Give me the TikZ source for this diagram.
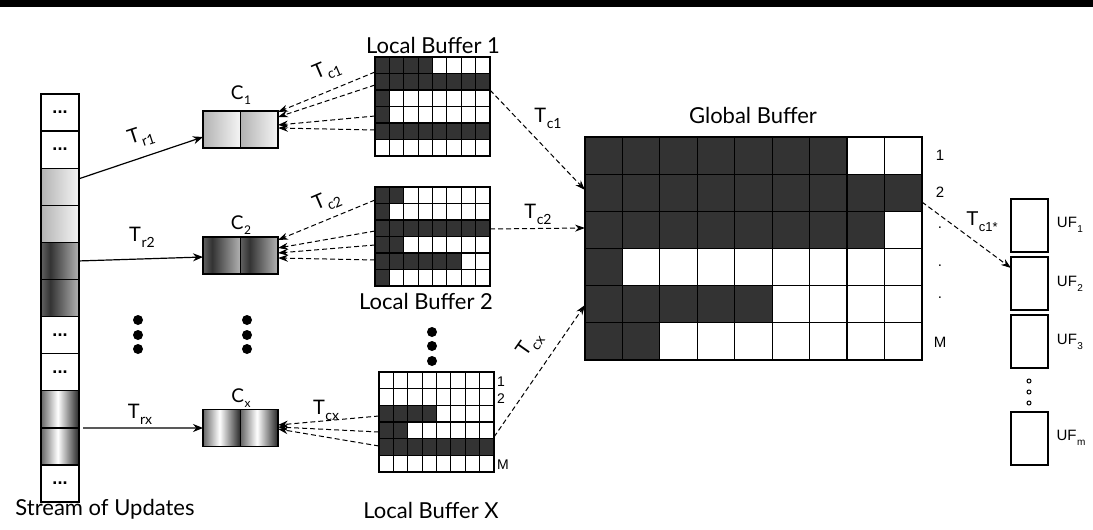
\documentclass[tikz,border=0pt]{standalone}
\usepackage{fontspec}
\setmainfont{Lato}
\newfontfamily\arialf{Liberation Sans}
\usetikzlibrary{arrows.meta,calc}
\pgfdeclarehorizontalshading{lightgrad}{100bp}{color(0bp)=(black!30); color(25bp)=(black!30); color(75bp)=(black!4); color(100bp)=(black!4)}
\pgfdeclarehorizontalshading{darkgrad}{100bp}{color(0bp)=(black!62); color(25bp)=(black!62); color(37bp)=(black!80); color(75bp)=(black!30); color(100bp)=(black!30)}
\pgfdeclarehorizontalshading{xgrad}{100bp}{color(0bp)=(black!60); color(25bp)=(black!60); color(47bp)=(white); color(75bp)=(black!85); color(100bp)=(black!85)}
\newcommand\sbs[2]{\kern0.5pt\raisebox{-0.3em}{\fontsize{#1}{#1}\selectfont #2}}
\newcommand\drawgrid[8]{%
  \foreach \rowv [count=\r] in {#7} {%
    \foreach \v [count=\c] in \rowv {%
      \ifnum\v=1 \def\fc{black!80}\else\def\fc{white}\fi
      \draw[line width=1.2pt, fill=\fc] ({#1+(\c-1)*#3},{#2+(\r-1)*#4}) rectangle ++(#3,#4);
    }%
  }%
  \node[inner sep=0pt, outer sep=0pt, minimum width={#3*#5}, minimum height={#4*#6}, anchor=north west] (#8) at (#1,#2) {};
}
\begin{document}
\begin{tikzpicture}[x=1pt,y=-1pt,
  scell/.style={draw, line width=1.3pt, minimum width=38pt, minimum height=37.1pt, inner sep=0pt, outer sep=0pt},
  dotc/.style={font=\arialf\bfseries\fontsize{18}{18}\selectfont},
  lightc/.style={shading=lightgrad},
  darkc/.style={shading=darkgrad},
  xc/.style={shading=xgrad},
  chalf/.style={draw, line width=1.3pt, minimum width=37.5pt, minimum height=37pt, inner sep=0pt, outer sep=0pt},
  title/.style={font=\fontsize{22}{24}\selectfont, inner sep=0pt},
  tlab/.style={font=\fontsize{20}{22}\selectfont, inner sep=0pt},
  clab/.style={font=\fontsize{19}{21}\selectfont, inner sep=0pt},
  rlab/.style={font=\arialf\fontsize{15}{16}\selectfont, inner sep=0pt},
  ufbox/.style={draw, line width=1.1pt, minimum width=37pt, minimum height=53pt, inner sep=0pt, outer sep=0pt},
  bigdot/.style={fill=black, circle, minimum size=10pt, inner sep=0pt},
  smalldot/.style={draw, line width=1pt, circle, minimum size=4pt, inner sep=0pt},
  solidarr/.style={line width=1.2pt, -{Stealth[length=10pt,width=8pt]}},
  dasharr/.style={line width=1pt, dash pattern=on 5pt off 3pt, -{Stealth[length=10pt,width=7pt]}}
]
\useasboundingbox (0,0) rectangle (1093,530);
\fill[white] (0,0) rectangle (1093,530);
\fill[black] (0,0) rectangle (1093,7);

% stream of updates
\node[scell,dotc] (s0) at (60,112.55) {...};
\node[scell,dotc] (s1) at (60,149.65) {...};
\node[scell,lightc] (s2) at (60,186.75) {};
\node[scell,lightc] (s3) at (60,223.85) {};
\node[scell,darkc] (s4) at (60,260.95) {};
\node[scell,darkc] (s5) at (60,298.05) {};
\node[scell,dotc] (s6) at (60,335.15) {...};
\node[scell,dotc] (s7) at (60,372.25) {...};
\node[scell,xc] (s8) at (60,409.35) {};
\node[scell,xc] (s9) at (60,446.45) {};
\node[scell,dotc] (s10) at (60,483.55) {...};
\foreach \i in {0,...,10} {\draw[line width=1.3pt] (s\i.north west) rectangle (s\i.south east);}
\node[title] (stitle) at (105,509) {Stream of Updates};

% C boxes
\node[chalf,lightc] (c1a) at (221.75,129.5) {};
\node[chalf,lightc] (c1b) at (259.25,129.5) {};
\node[chalf,darkc] (c2a) at (221.75,255.5) {};
\node[chalf,darkc] (c2b) at (259.25,255.5) {};
\node[chalf,xc] (cxa) at (221.75,428) {};
\node[chalf,xc] (cxb) at (259.25,428) {};
\foreach \n in {c1a,c1b,c2a,c2b,cxa,cxb} {\draw[line width=1.3pt] (\n.north west) rectangle (\n.south east);}
\node[clab] (c1l) at (241,95) {C\sbs{12}{1}};
\node[clab] (c2l) at (241,225) {C\sbs{12}{2}};
\node[clab] (cxl) at (241,398) {C\sbs{12}{x}};

% dots
\foreach \yy [count=\k] in {320,335,349} {
  \node[bigdot] (da\k) at (138,\yy) {};
  \node[bigdot] (db\k) at (247,\yy) {};
}
\foreach \yy [count=\k] in {332,346,361} {\node[bigdot] (dc\k) at (432,\yy) {};}

% local buffers
\drawgrid{375}{57}{14.375}{16.5}{8}{6}{{1,1,1,1,0,0,0,0},{1,1,1,1,1,1,1,1},{1,0,0,0,0,0,0,0},{1,0,0,0,0,0,0,0},{1,1,1,1,1,1,1,1},{0,0,0,0,0,0,0,0}}{lb1}
\drawgrid{375}{187}{14.375}{16.5}{8}{6}{{1,1,0,0,0,0,0,0},{1,0,0,0,0,0,0,0},{1,1,1,1,1,1,1,1},{1,1,0,0,0,0,0,0},{1,1,1,1,1,1,0,0},{1,0,0,0,0,0,0,0}}{lb2}
\drawgrid{379}{372}{14.375}{16.67}{8}{6}{{0,0,0,0,0,0,0,0},{0,0,0,0,0,0,0,0},{1,1,1,1,0,0,0,0},{1,1,0,0,0,0,0,0},{1,1,1,1,1,1,1,1},{0,0,0,0,0,0,0,0}}{lbx}
\node[title] (lb1t) at (433,45) {Local Buffer 1};
\node[title] (lb2t) at (426,301) {Local Buffer 2};
\node[title] (lbxt) at (431,510) {Local Buffer X};
\node[rlab, anchor=west, font=\arialf\fontsize{14}{15}\selectfont] (lx1) at (497,382) {1};
\node[rlab, anchor=west, font=\arialf\fontsize{14}{15}\selectfont] (lx2) at (497,399) {2};
\node[rlab, anchor=west, font=\arialf\fontsize{14}{15}\selectfont] (lxm) at (497,465) {M};

% global buffer
\drawgrid{585}{137}{37.44}{37.17}{9}{6}{{1,1,1,1,1,1,1,0,0},{1,1,1,1,1,1,1,1,1},{1,1,1,1,1,1,1,1,0},{1,0,0,0,0,0,0,0,0},{1,1,1,1,1,0,0,0,0},{1,1,0,0,0,0,0,0,0}}{gb}
\node[title] (gbt) at (753,115) {Global Buffer};
\node[rlab] (g1) at (940,155) {1};
\node[rlab] (g2) at (940,192) {2};
\node[rlab] (g3) at (940,228) {.};
\node[rlab] (g4) at (940,266) {.};
\node[rlab] (g5) at (940,298) {.};
\node[rlab] (gm) at (940,342) {M};

% UF boxes
\node[ufbox] (uf1) at (1029.5,225.5) {};
\node[ufbox] (uf2) at (1029.5,283.5) {};
\node[ufbox] (uf3) at (1029.5,341.5) {};
\node[ufbox] (ufm) at (1029.5,438.5) {};
\node[rlab] (uf1l) at (1070,225) {UF\sbs{10}{1}};
\node[rlab] (uf2l) at (1070,284) {UF\sbs{10}{2}};
\node[rlab] (uf3l) at (1070,342) {UF\sbs{10}{3}};
\node[rlab] (ufml) at (1071,438) {UF\sbs{10}{m}};
\node[smalldot] (o1) at (1029,381) {};
\node[smalldot] (o2) at (1029,392) {};
\node[smalldot] (o3) at (1029,403) {};

% stream -> C
\draw[solidarr] ($(s2.east)+(0,-8)$) -- ($(c1a.west)+(0,7.5)$);
\draw[solidarr] (s4.east) -- ($(c2a.west)+(0,1.5)$);
\draw[solidarr] ($(s8.south east)+(4,0)$) -- (cxa.west);
\node[tlab, rotate=18] (tr1) at (141,137) {T\sbs{14}{r1}};
\node[tlab] (tr2) at (142,237) {T\sbs{14}{r2}};
\node[tlab] (trx) at (140,414) {T\sbs{14}{rx}};

% local buffers -> C
\draw[dasharr] ($(lb1.north west)+(0,15)$) -- ($(c1b.east)+(0,-17.5)$);
\draw[dasharr] ($(lb1.north west)+(0,28)$) -- ($(c1b.east)+(0,-12.5)$);
\draw[dasharr] ($(lb1.north west)+(0,59)$) -- ($(c1b.east)+(0,-4.5)$);
\draw[dasharr] ($(lb1.north west)+(0,73)$) -- ($(c1b.east)+(0,-1.5)$);
\draw[dasharr] ($(lb2.north west)+(0,13)$) -- ($(c2b.east)+(0,-15.5)$);
\draw[dasharr] ($(lb2.north west)+(0,44)$) -- ($(c2b.east)+(0,-7.5)$);
\draw[dasharr] ($(lb2.north west)+(0,58)$) -- ($(c2b.east)+(0,-2.5)$);
\draw[dasharr] ($(lb2.north west)+(0,73)$) -- ($(c2b.east)+(0,2.5)$);
\draw[dasharr] ($(lbx.north west)+(0,44)$) -- ($(cxb.east)+(0,-3)$);
\draw[dasharr] ($(lbx.north west)+(0,60)$) -- ($(cxb.east)+(0,-1)$);
\draw[dasharr] ($(lbx.north west)+(0,74)$) -- ($(cxb.east)+(0,1)$);
\node[tlab, rotate=23] (tc1a) at (327,70) {T\sbs{14}{c1}};
\node[tlab, rotate=23] (tc2a) at (327,201) {T\sbs{14}{c2}};
\node[tlab] (tcxa) at (326,410) {T\sbs{14}{cx}};

% local buffers -> global
\draw[dasharr] ($(lb1.north east)+(0,33)$) -- ($(gb.north west)+(0,53)$);
\draw[dasharr] ($(lb2.north east)+(0,42)$) -- ($(gb.north west)+(0,91)$);
\draw[dasharr] ($(lbx.north east)+(0,65)$) -- ($(gb.north west)+(0,168)$);
\node[tlab] (tc1b) at (548,118) {T\sbs{14}{c1}};
\node[tlab] (tc2b) at (538,214) {T\sbs{14}{c2}};
\node[tlab, rotate=55] (tcxb) at (530,345) {T\sbs{14}{cx}};

% global -> UF
\draw[dasharr] ($(gb.north east)+(0,65)$) -- ($(uf2.north west)+(0,11)$);
\node[rlab, font=\arialf\fontsize{20}{22}\selectfont] (tc1s) at (982,222) {T\sbs{13}{c1*}};
\end{tikzpicture}
\end{document}
